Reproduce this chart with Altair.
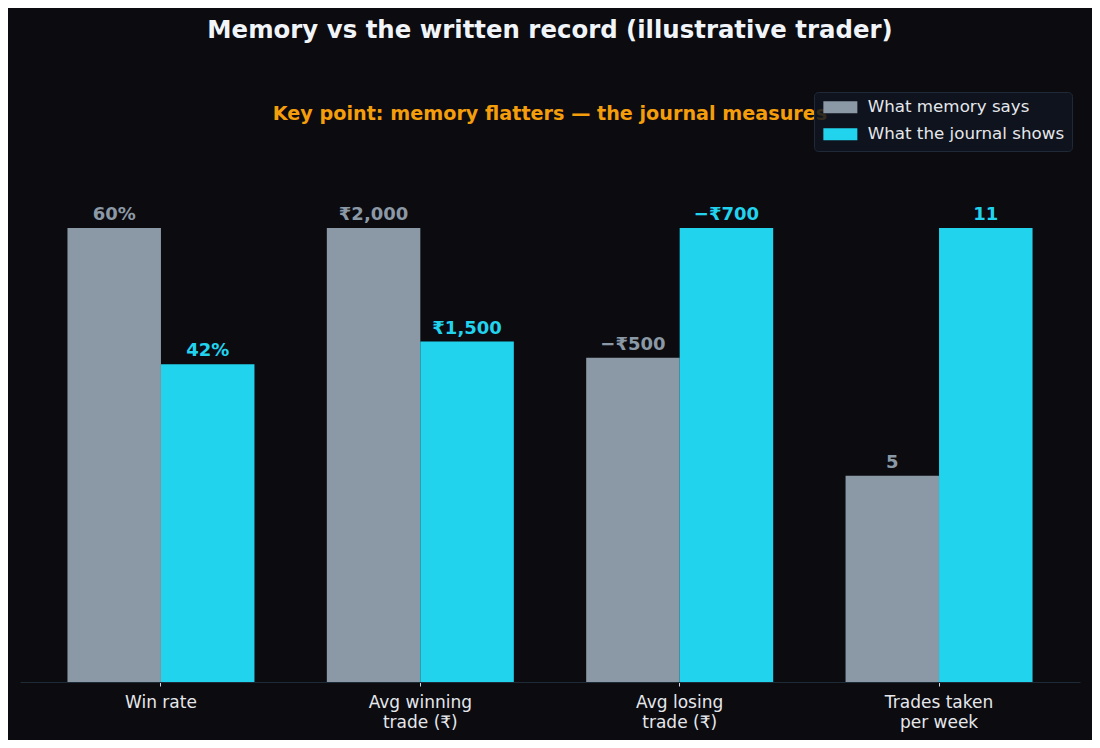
import altair as alt
import pandas as pd

categories = ["Win rate", "Avg winning\ntrade (₹)", "Avg losing\ntrade (₹)", "Trades taken\nper week"]
series_names = ["What memory says", "What the journal shows"]
memory_values = [60, 2000, -500, 5]
journal_values = [42, 1500, -700, 11]
memory_labels = ["60%", "₹2,000", "−₹500", "5"]
journal_labels = ["42%", "₹1,500", "−₹700", "11"]

GRAY = "#8b98a5"
CYAN = "#22d3ee"
BG = "#0b0b10"
FONT = "DejaVu Sans"

rows = []
for i, c in enumerate(categories):
    m = max(abs(memory_values[i]), abs(journal_values[i]))
    for name, vals, labs in [(series_names[0], memory_values, memory_labels),
                             (series_names[1], journal_values, journal_labels)]:
        rows.append(dict(category=c, series=name, value=vals[i],
                         norm=abs(vals[i]) / m, label=labs[i]))
df = pd.DataFrame(rows)

x_enc = alt.X("category:N", sort=categories,
              scale=alt.Scale(paddingInner=0.279, paddingOuter=0.183),
              axis=alt.Axis(title=None, labelAngle=0,
                            labelExpr="split(datum.label, '\\n')",
                            labelFontSize=17, labelColor="#e5e7eb", labelFont=FONT,
                            labelLineHeight=20, labelPadding=8,
                            domainColor="#1e2a35", tickColor="#cbd5e1", tickSize=4))
xo_enc = alt.XOffset("series:N", sort=series_names,
                     scale=alt.Scale(paddingInner=0, paddingOuter=0))
y_enc = alt.Y("norm:Q", scale=alt.Scale(domain=[0, 1.15]), axis=None)
color_scale = alt.Scale(domain=series_names, range=[GRAY, CYAN])

bars = alt.Chart(df).mark_bar().encode(
    x=x_enc, xOffset=xo_enc, y=y_enc,
    color=alt.Color("series:N", sort=series_names, scale=color_scale,
                    legend=alt.Legend(title=None, orient="none", legendX=794, legendY=-68,
                                      symbolType="M-2.833,-1L2.833,-1L2.833,1L-2.833,1Z",
                                      symbolSize=144, symbolStrokeWidth=0, symbolOffset=11,
                                      labelFontSize=16.7, labelColor="#e5e7eb", labelFont=FONT,
                                      labelOffset=19, labelLimit=400, rowPadding=9, padding=7,
                                      fillColor="rgba(15,21,32,0.85)", strokeColor="#1f2937",
                                      cornerRadius=4, zindex=1)),
)

labels = alt.Chart(df).mark_text(baseline="alphabetic", dy=-8, fontSize=18,
                                 fontWeight="bold", font=FONT).encode(
    x=x_enc, xOffset=xo_enc, y=y_enc,
    text="label:N",
    color=alt.Color("series:N", sort=series_names, scale=color_scale, legend=None),
)

chart = alt.layer(bars, labels).properties(
    width=1060, height=522,
    autosize="none",
    padding={"left": 12, "top": 152, "right": 12, "bottom": 58},
    background=BG,
    title=alt.TitleParams(text="Memory vs the written record (illustrative trader)",
                          subtitle="Key point: memory flatters — the journal measures",
                          anchor="middle", font=FONT, fontSize=24.4, fontWeight="bold",
                          color="#f1f5f9", subtitleFont=FONT, subtitleFontSize=19.2,
                          subtitleFontWeight="bold", subtitleColor="#f59e0b",
                          subtitlePadding=62, offset=-34),
).configure_view(stroke=None)

chart.save("out.html", embed_options={"renderer": "svg", "actions": False})
